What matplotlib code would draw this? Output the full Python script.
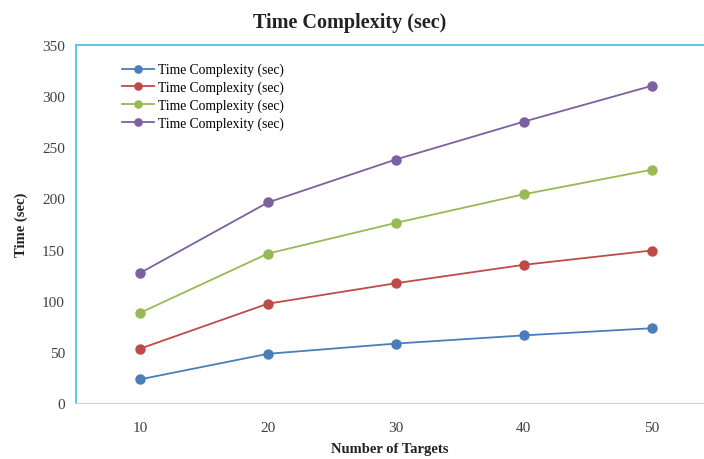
import matplotlib
matplotlib.use("Agg")
import matplotlib.pyplot as plt

# number of targets on the x axis, one list of times per run
targets = ["10", "20", "30", "40", "50"]
run_1 = [23, 48, 58, 66, 73]
run_2 = [53, 97, 117, 135, 149]
run_3 = [88, 146, 176, 204, 228]
run_4 = [127, 196, 238, 275, 310]
label = "Time Complexity (sec)"

colors = ["#4a7ebb", "#be4b48", "#98b954", "#7d60a0"]

plt.rcParams['font.family'] = ['Liberation Serif', 'DejaVu Serif']

fig = plt.figure(figsize=(7.04, 4.60), dpi=100)
ax = fig.add_axes([0.108, 0.122, 0.892, 0.778])

x = range(len(targets))
for ys, c in zip([run_1, run_2, run_3, run_4], colors):
    ax.plot(x, ys, color=c, lw=1.3, marker="o", markersize=6.5, label=label)

ax.set_xticks(list(x))
ax.set_xticklabels(targets)
ax.set_xlim(-0.5, 4.41)
ax.set_ylim(0, 350)
ax.set_yticks(range(0, 351, 50))
ax.tick_params(length=0, labelsize=11, labelcolor="#404040")
ax.tick_params(axis="x", pad=13)
ax.tick_params(axis="y", pad=8)

for s in ["left", "top"]:
    ax.spines[s].set_color("#4fc1ee")
    ax.spines[s].set_linewidth(1.3)
ax.spines["bottom"].set_color("#c8d3dc")
ax.spines["right"].set_visible(False)

fig.text(0.497, 0.950, "Time Complexity (sec)", ha="center", va="center",
         fontsize=14.5, fontweight="bold", color="#222222")
ax.set_xlabel("Number of Targets", fontsize=10.5, fontweight="bold", labelpad=6, color="#222222")
ax.set_ylabel("Time (sec)", fontsize=10.5, fontweight="bold", labelpad=10, color="#222222")

ax.legend(loc="upper left", bbox_to_anchor=(0.065, 0.965), frameon=False, fontsize=9.8,
          handlelength=2.3, handletextpad=0.3, labelspacing=0.32, borderaxespad=0,
          markerscale=0.8)

fig.savefig("out.png", dpi=100)
